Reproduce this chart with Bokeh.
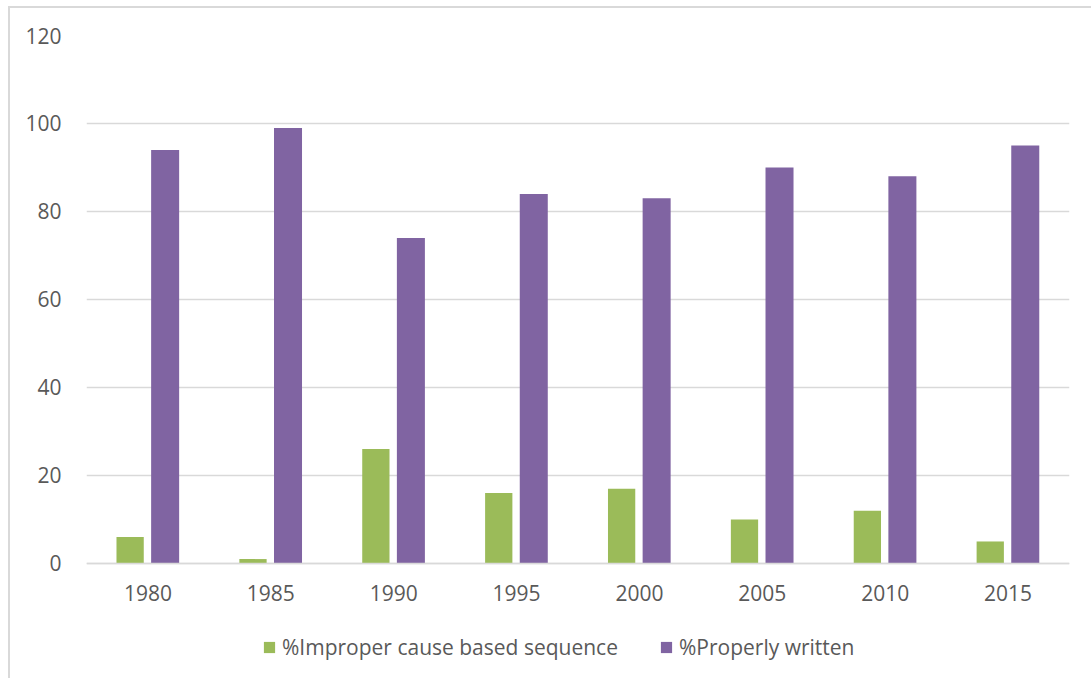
from bokeh.plotting import figure
from bokeh.models import Legend, LegendItem, FixedTicker
from bokeh.transform import dodge
from bokeh.embed import file_html
from bokeh.resources import INLINE

# Survey years and the two percentage series
years = ["1980", "1985", "1990", "1995", "2000", "2005", "2010", "2015"]
improper_pct = [6, 1, 26, 16, 17, 10, 12, 5]
proper_pct = [94, 99, 74, 84, 83, 90, 88, 95]
series_labels = ["%Improper cause based sequence", "%Properly written"]
y_ticks = [0, 20, 40, 60, 80, 100, 120]

GREEN = "#9BBB59"
PURPLE = "#8064A2"
TEXT = "#595959"
GRID = "#D9D9D9"
FONT = "Open Sans"

source = dict(year=years, improper=improper_pct, proper=proper_pct)

# the frame runs down to the bottom edge so the legend can sit inside it,
# with the category axis pinned at zero
p = figure(
    x_range=years,
    y_range=(-26.6, 120),
    width=1083,
    height=672,
    output_backend="svg",
    toolbar_location=None,
    min_border_left=76,
    min_border_right=24,
    min_border_top=27,
    min_border_bottom=0,
)
p.margin = (6, 0, 0, 8)
p.styles = {"border-top": "2px solid #D9D9D9", "border-left": "2px solid #D9D9D9"}
p.outline_line_color = None
p.background_fill_color = "white"
p.border_fill_color = "white"

r1 = p.vbar(x=dodge("year", -0.145, range=p.x_range), top="improper", width=0.222,
            source=source, fill_color=GREEN, line_color=None)
r2 = p.vbar(x=dodge("year", 0.14, range=p.x_range), top="proper", width=0.228,
            source=source, fill_color=PURPLE, line_color=None)

# y axis
p.yaxis.ticker = FixedTicker(ticks=y_ticks)
p.yaxis.axis_line_color = None
p.yaxis.major_tick_line_color = None
p.yaxis.minor_tick_line_color = None
p.yaxis.major_label_text_font = FONT
p.yaxis.major_label_text_font_size = "21px"
p.yaxis.major_label_text_color = TEXT
p.yaxis.major_label_standoff = 19

# x axis
p.xaxis.fixed_location = 0
p.xaxis.axis_line_color = GRID
p.xaxis.axis_line_width = 1.5
p.xaxis.major_tick_line_color = None
p.xaxis.minor_tick_line_color = None
p.xaxis.major_tick_out = 0
p.xaxis.major_label_text_font = FONT
p.xaxis.major_label_text_font_size = "21px"
p.xaxis.major_label_text_color = TEXT
p.xaxis.major_label_standoff = 22

p.xgrid.grid_line_color = None
p.ygrid.grid_line_color = GRID
p.ygrid.grid_line_width = 1.5

legend = Legend(
    items=[LegendItem(label=series_labels[0], renderers=[r1]),
           LegendItem(label=series_labels[1], renderers=[r2])],
    orientation="horizontal",
    location=(176, 19),
    glyph_width=14,
    glyph_height=14,
    label_standoff=6,
    spacing=41,
    padding=0,
    margin=0,
    border_line_color=None,
    background_fill_alpha=0,
    label_text_font=FONT,
    label_text_font_size="21px",
    label_text_color=TEXT,
)
p.add_layout(legend, "center")

open("out.html", "w").write(file_html(p, INLINE))
